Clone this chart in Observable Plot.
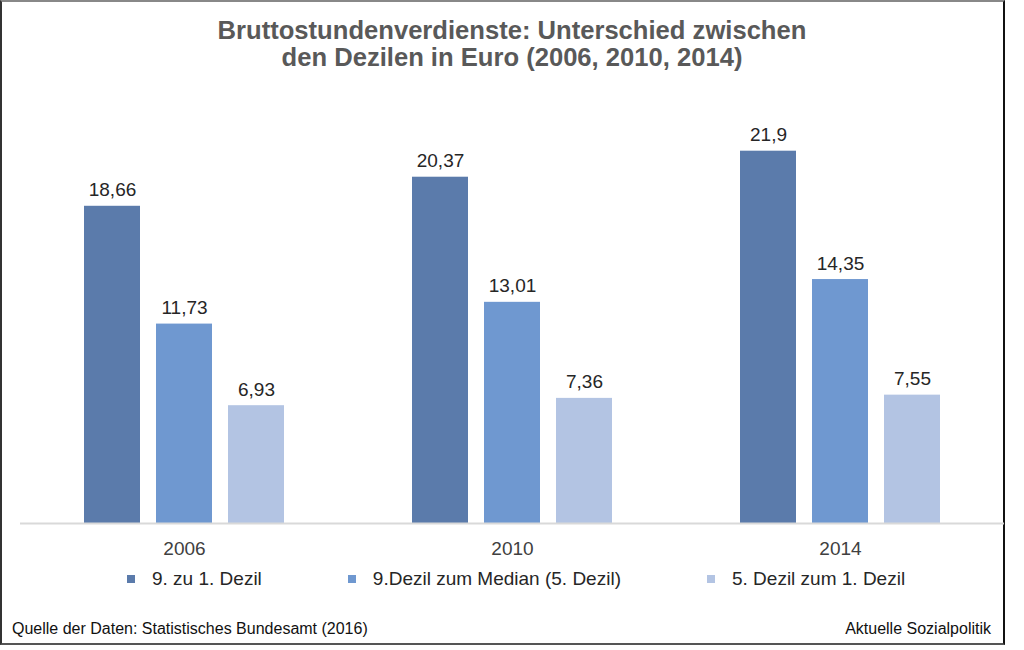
<!DOCTYPE html>
<html>
<head>
<meta charset="utf-8">
<script src="https://cdn.jsdelivr.net/npm/d3@7"></script>
<script src="https://cdn.jsdelivr.net/npm/@observablehq/plot@0.6"></script>
<style>
  html, body { margin: 0; padding: 0; background: #fff; }
  body { width: 1024px; height: 650px; position: relative; overflow: hidden; font-family: "Liberation Sans", Arial, Helvetica, sans-serif; }
  #frame { position: absolute; left: 0; top: 0; width: 1001px; height: 641px;
    border-left: 2px solid #333; border-top: 2px solid #888; border-right: 2px solid #111; border-bottom: 2px solid #555; }
  #title { position: absolute; left: 0; top: 17px; width: 1024px; text-align: center;
    font-weight: bold; font-size: 25.6px; line-height: 27px; color: #595959; }
  #chart { position: absolute; left: 0; top: 90px; }
  #legend { position: absolute; left: 127px; top: 568px; display: flex; align-items: center; font-size: 19px; color: #262626; }
  .item { display: flex; align-items: center; margin-right: 86px; }
  .sw { width: 8px; height: 8px; margin-right: 17px; }
  #src { position: absolute; left: 12px; top: 620px; font-size: 16px; color: #111; }
  #brand { position: absolute; right: 33px; top: 620px; font-size: 16px; color: #111; }
</style>
</head>
<body>
<div id="frame"></div>
<div id="title">Bruttostundenverdienste: Unterschied zwischen<br>den Dezilen in Euro (2006, 2010, 2014)</div>
<div id="chart"></div>
<div id="legend"></div>
<div id="src">Quelle der Daten: Statistisches Bundesamt (2016)</div>
<div id="brand">Aktuelle Sozialpolitik</div>
<script>
const years = ["2006", "2010", "2014"];
const series = ["9. zu 1. Dezil", "9.Dezil zum Median (5. Dezil)", "5. Dezil zum 1. Dezil"];
const values9zu1 = [18.66, 20.37, 21.9];
const values9zuMedian = [11.73, 13.01, 14.35];
const values5zu1 = [6.93, 7.36, 7.55];
const colors = ["#5b7bab", "#6f98d0", "#b3c4e3"];

const seriesValues = [values9zu1, values9zuMedian, values5zu1];
const data = [];
years.forEach((y, i) => {
  series.forEach((s, j) => {
    data.push({year: y, series: s, value: seriesValues[j][i]});
  });
});

const fmt = v => String(v).replace(".", ",");

const chart = Plot.plot({
  width: 1004,
  height: 473,
  marginLeft: 20,
  marginRight: 0,
  marginTop: 8,
  marginBottom: 40,
  style: {fontFamily: "Liberation Sans, Arial, sans-serif", fontSize: "19px", background: "transparent", color: "#404040"},
  fx: {domain: years, padding: 0, axis: "bottom", tickSize: 0, tickPadding: 18, label: null},
  x: {domain: series, axis: null, paddingInner: 0.22, paddingOuter: 0.857},
  y: {domain: [0, 25], axis: null},
  color: {domain: series, range: colors},
  marks: [
    Plot.barY(data, {fx: "year", x: "series", y: "value", fill: "series"}),
    Plot.ruleY([0], {stroke: "#d9d9d9", strokeWidth: 2}),
    Plot.text(data, {fx: "year", x: "series", y: "value", text: d => fmt(d.value),
      lineAnchor: "bottom", dy: -10, fontSize: 19, fill: "#262626"})
  ]
});
document.getElementById("chart").appendChild(chart);

const legend = document.getElementById("legend");
series.forEach((s, i) => {
  const item = document.createElement("div");
  item.className = "item";
  const sw = document.createElement("div");
  sw.className = "sw";
  sw.style.background = colors[i];
  const lab = document.createElement("span");
  lab.textContent = s;
  item.appendChild(sw);
  item.appendChild(lab);
  legend.appendChild(item);
});
</script>
</body>
</html>
